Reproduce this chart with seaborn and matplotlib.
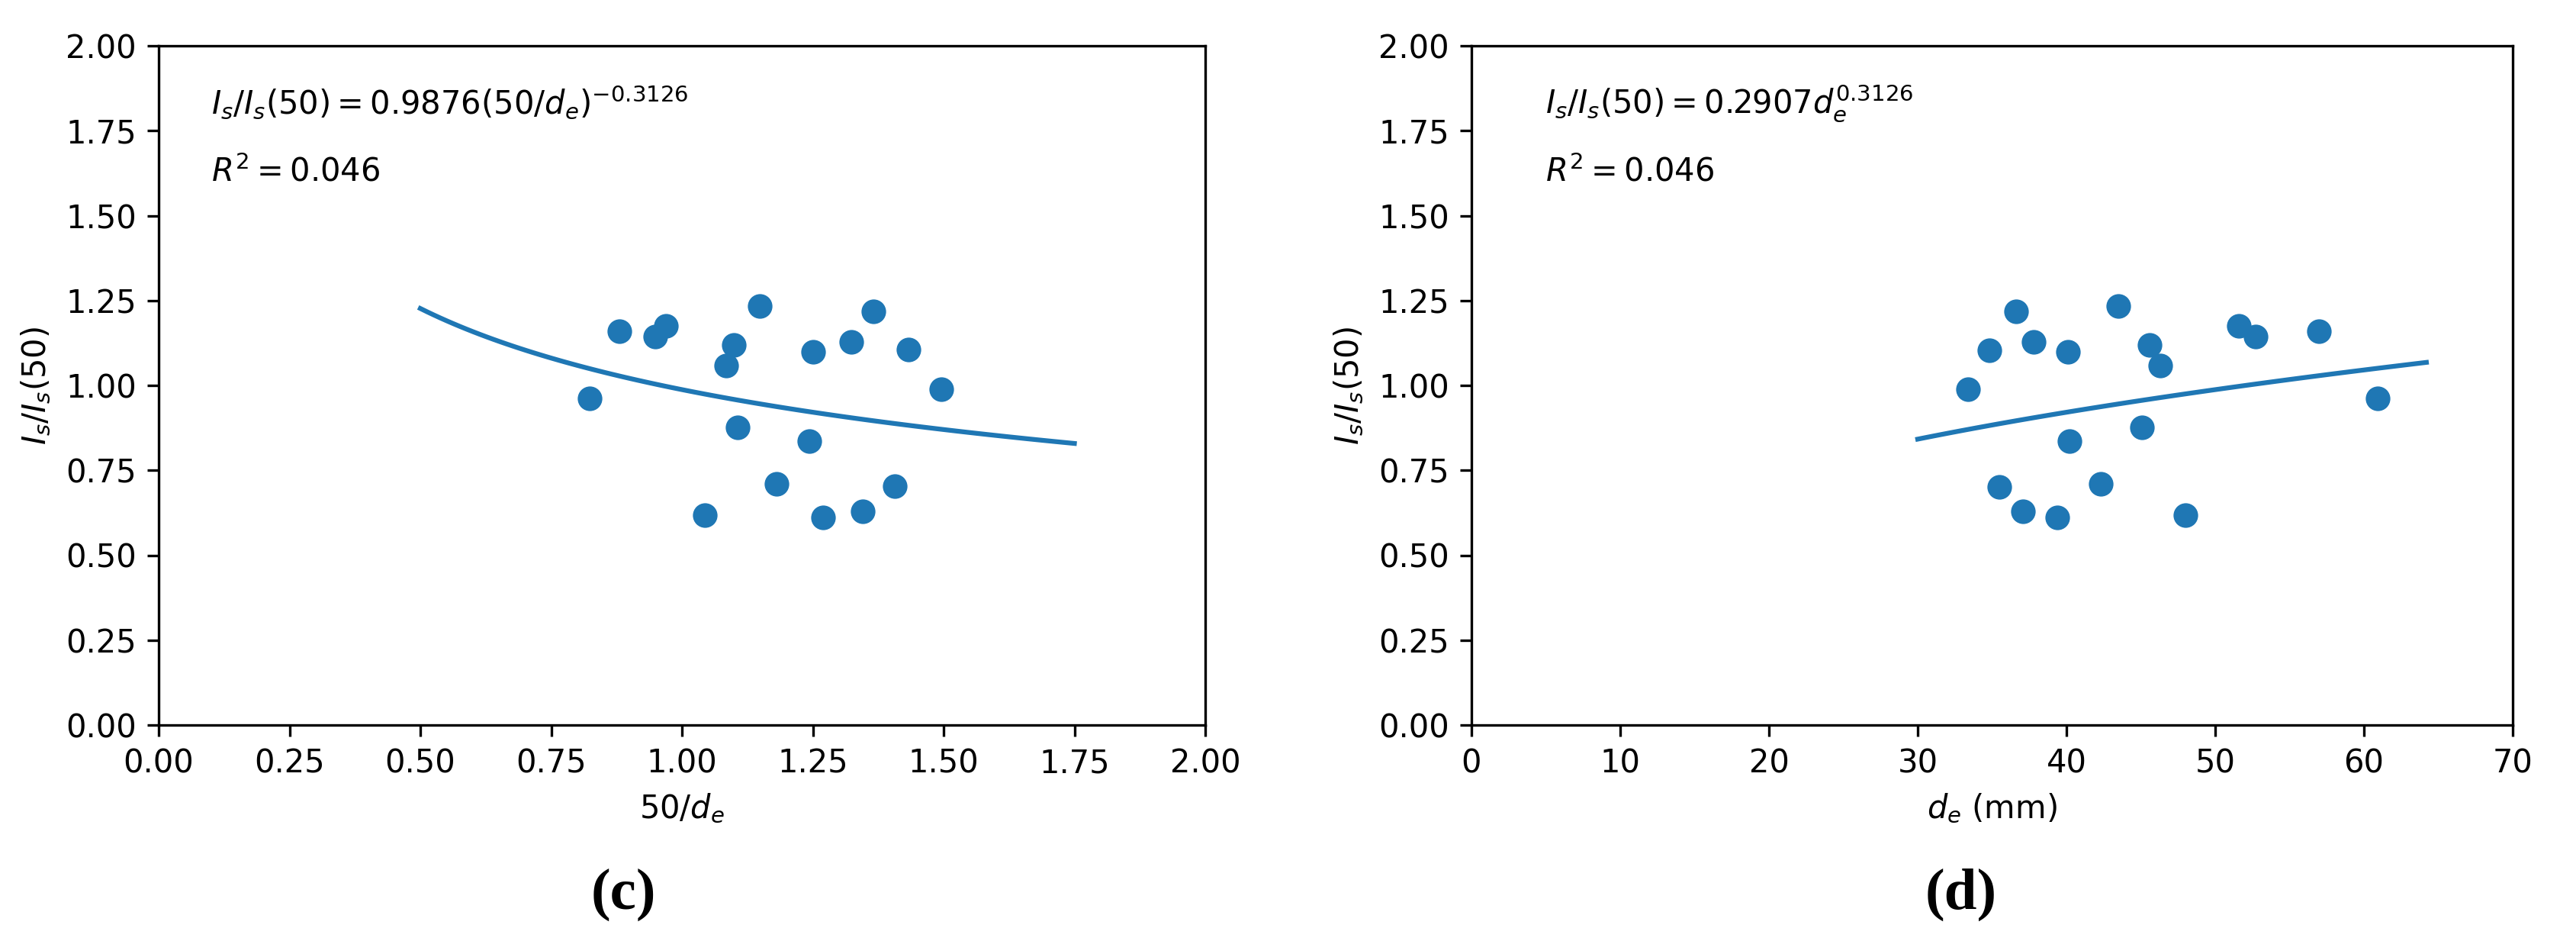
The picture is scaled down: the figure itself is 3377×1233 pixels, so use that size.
import numpy as np
import pandas as pd
import seaborn as sns
import matplotlib.pyplot as plt
from matplotlib.ticker import FormatStrFormatter

# panel (c): 50/d_e vs Is/Is(50)
ratio_c = [0.824, 0.880, 0.949, 0.969, 1.044, 1.084, 1.099, 1.107, 1.149, 1.181,
           1.243, 1.250, 1.269, 1.323, 1.346, 1.366, 1.406, 1.433, 1.495]
is_c = [0.962, 1.159, 1.144, 1.175, 0.618, 1.058, 1.120, 0.876, 1.234, 0.711,
        0.837, 1.099, 0.612, 1.129, 0.629, 1.218, 0.703, 1.105, 0.989]

# panel (d): d_e (mm) vs Is/Is(50)
de_d = [33.4, 34.8, 35.5, 36.6, 37.1, 37.8, 39.4, 40.1, 40.2, 42.3,
        43.5, 45.1, 45.6, 46.3, 48.0, 51.6, 52.7, 57.0, 60.9]
is_d = [0.989, 1.103, 0.702, 1.217, 0.629, 1.129, 0.612, 1.099, 0.837, 0.711,
        1.234, 0.876, 1.120, 1.058, 0.618, 1.175, 1.144, 1.159, 0.962]

# fitted power laws (coefficients from the annotations)
coef_c, exp_c = 0.9876, -0.3126
coef_d, exp_d = 0.2907, 0.3126
fit_range_c = (0.5, 1.75)
fit_range_d = (30, 64.2)

y_ticks = [0.0, 0.25, 0.5, 0.75, 1.0, 1.25, 1.5, 1.75, 2.0]
x_ticks_c = [0.0, 0.25, 0.5, 0.75, 1.0, 1.25, 1.5, 1.75, 2.0]
x_ticks_d = [0, 10, 20, 30, 40, 50, 60, 70]

plt.rcParams["font.size"] = 10
plt.rcParams["mathtext.fontset"] = "dejavusans"

blue = "#1f77b4"

fig = plt.figure(figsize=(3377 / 300, 1233 / 300), dpi=300)
ax_c = fig.add_axes([208 / 3377, 1 - 950 / 1233, 1372 / 3377, 890 / 1233])
ax_d = fig.add_axes([1929 / 3377, 1 - 950 / 1233, 1365 / 3377, 890 / 1233])

# (c)
xc = np.linspace(*fit_range_c, 100)
sns.lineplot(x=xc, y=coef_c * xc ** exp_c, ax=ax_c, color=blue, linewidth=1.5)
sns.scatterplot(x=ratio_c, y=is_c, ax=ax_c, color=blue, s=60, linewidth=0, zorder=3)
ax_c.set_xlim(0, 2)
ax_c.set_ylim(0, 2)
ax_c.set_xticks(x_ticks_c)
ax_c.set_yticks(y_ticks)
ax_c.xaxis.set_major_formatter(FormatStrFormatter("%.2f"))
ax_c.yaxis.set_major_formatter(FormatStrFormatter("%.2f"))
ax_c.set_xlabel("$50/d_e$")
ax_c.set_ylabel("$I_s/I_s(50)$")
ax_c.text(0.1, 1.8, r"$I_s/I_s(50) = 0.9876(50/d_e)^{-0.3126}$")
ax_c.text(0.1, 1.6, r"$R^2 = 0.046$")

# (d)
xd = np.linspace(*fit_range_d, 100)
sns.lineplot(x=xd, y=coef_d * xd ** exp_d, ax=ax_d, color=blue, linewidth=1.5)
sns.scatterplot(x=de_d, y=is_d, ax=ax_d, color=blue, s=60, linewidth=0, zorder=3)
ax_d.set_xlim(0, 70)
ax_d.set_ylim(0, 2)
ax_d.set_xticks(x_ticks_d)
ax_d.set_yticks(y_ticks)
ax_d.yaxis.set_major_formatter(FormatStrFormatter("%.2f"))
ax_d.set_xlabel("$d_e$ (mm)")
ax_d.set_ylabel("$I_s/I_s(50)$")
ax_d.text(5, 1.8, r"$I_s/I_s(50) = 0.2907d_e^{0.3126}$")
ax_d.text(5, 1.6, r"$R^2 = 0.046$")

for ax in (ax_c, ax_d):
    for sp in ax.spines.values():
        sp.set_visible(True)

fig.text(817 / 3377, 1 - 1172 / 1233, "(c)", ha="center", va="center",
         fontsize=18.5, fontweight="bold", family="Liberation Serif")
fig.text(2571 / 3377, 1 - 1172 / 1233, "(d)", ha="center", va="center",
         fontsize=18.5, fontweight="bold", family="Liberation Serif")

fig.savefig("out.png", dpi=300, facecolor="white")
